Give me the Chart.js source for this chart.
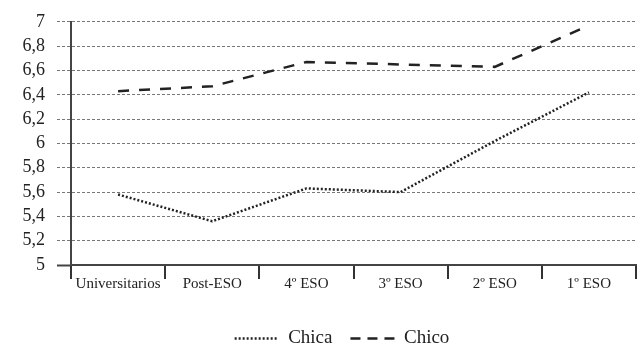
<!DOCTYPE html>
<html><head><meta charset="utf-8">
<script src="https://cdn.jsdelivr.net/npm/chart.js@4/dist/chart.umd.min.js"></script>
<style>html,body{margin:0;padding:0;background:#fff}#wrap{width:638px;height:344px}</style>
</head><body><div id="wrap"><canvas id="c"></canvas></div>
<script>
const categories = ['Universitarios', 'Post-ESO', '4º ESO', '3º ESO', '2º ESO', '1º ESO'];
const chica = [5.58, 5.36, 5.63, 5.60, 6.02, 6.42];
const chico = [6.43, 6.47, 6.67, 6.65, 6.63, 6.97];
const seriesNames = ['Chica', 'Chico'];
const seriesDash = [[2, 2], [11, 10]];
const legendDash = [[2, 2], [10, 7]];
const yMin = 5, yMax = 7, yStep = 0.2;

const fam = "'Liberation Serif', 'Times New Roman', serif";
Chart.defaults.font.family = fam;
Chart.defaults.color = '#222';

const shiftLegend = {
  id: 'shiftLegend',
  afterLayout(chart) { chart.legend.left += 24; chart.legend.right += 24; }
};

new Chart(document.getElementById('c'), {
  type: 'line',
  data: {
    labels: categories,
    datasets: [
      { label: seriesNames[0], data: chica, borderColor: '#222', backgroundColor: '#222',
        borderWidth: 2.5, borderDash: seriesDash[0], pointRadius: 0, tension: 0 },
      { label: seriesNames[1], data: chico, borderColor: '#222', backgroundColor: '#222',
        borderWidth: 2.5, borderDash: seriesDash[1], pointRadius: 0, tension: 0 }
    ]
  },
  plugins: [shiftLegend],
  options: {
    responsive: true, maintainAspectRatio: false, animation: false,
    layout: { padding: { top: 0, right: 2, left: 0, bottom: -14 } },
    plugins: {
      tooltip: { enabled: false },
      legend: {
        position: 'bottom',
        title: { display: true, text: ' ', padding: 0, font: { size: 22, lineHeight: 1 } },
        labels: { usePointStyle: true, pointStyle: 'line', pointStyleWidth: 44,
          font: { size: 19, family: fam }, color: '#222', padding: 18,
          generateLabels: (chart) => chart.data.datasets.map((ds, i) => ({
            text: ds.label, fillStyle: '#222', strokeStyle: '#222', lineWidth: 2.5,
            lineDash: legendDash[i], pointStyle: 'line', datasetIndex: i, hidden: false, fontColor: '#222'
          }))
        }
      }
    },
    scales: {
      x: {
        offset: true,
        grid: { display: true, drawOnChartArea: false, offset: true, tickLength: 14, color: '#333', lineWidth: 2 },
        border: { display: true, color: '#444', width: 2 },
        ticks: { font: { size: 15, family: fam }, color: '#222', padding: -4, maxRotation: 0, autoSkip: false }
      },
      y: {
        min: yMin, max: yMax,
        afterFit: (s) => { s.width = 71; },
        ticks: { stepSize: yStep, autoSkip: false, padding: 12, font: { size: 18, family: fam, lineHeight: 1.1 }, color: '#222',
          callback: (v) => String(Number(v.toFixed(1))).replace('.', ',') },
        grid: { color: '#777', lineWidth: 1, tickLength: 14, tickColor: (ctx) => ctx.tick && ctx.tick.value === yMin ? '#444' : '#777',
          tickBorderDash: (ctx) => ctx.tick && ctx.tick.value === yMin ? [] : [3, 2],
          tickWidth: (ctx) => ctx.tick && ctx.tick.value === yMin ? 2 : 1 },
        border: { display: true, color: '#444', width: 2, dash: [3, 2] }
      }
    }
  }
});
</script></body></html>
